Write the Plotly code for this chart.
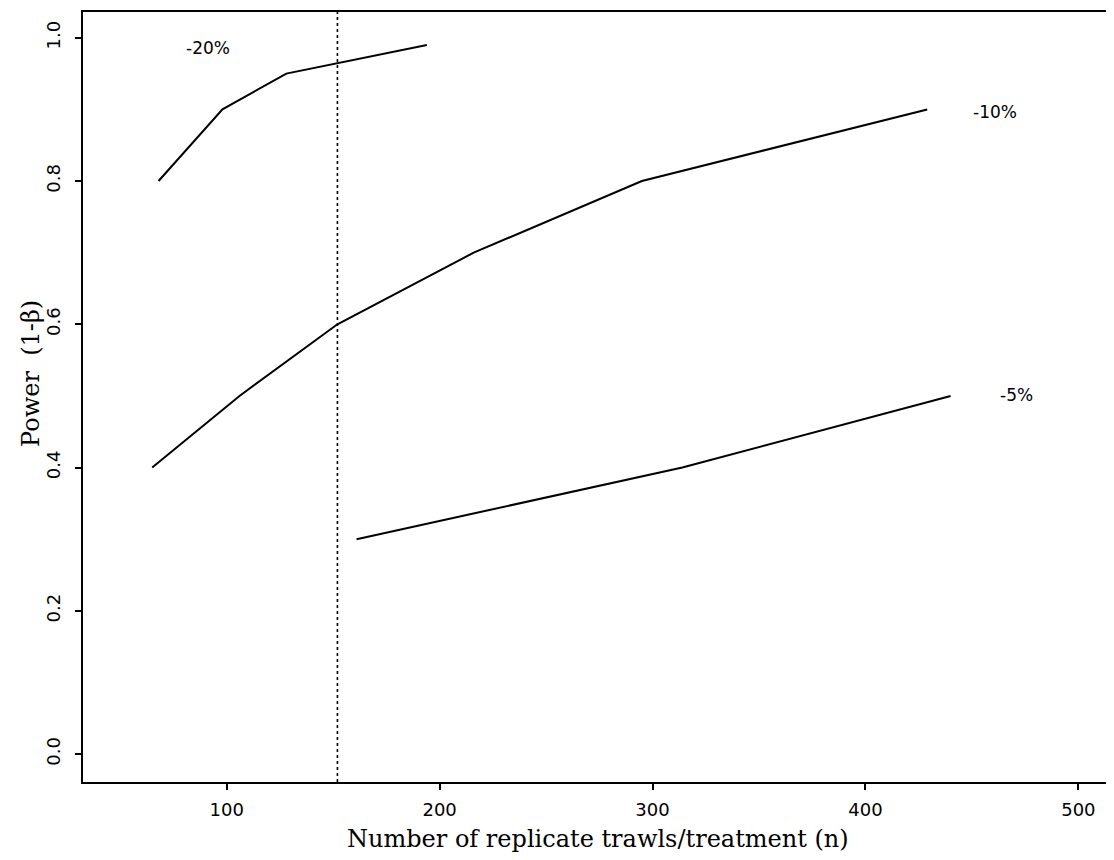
import plotly.graph_objects as go

# Data
n_20 = [68, 98, 128, 194]
p_20 = [0.80, 0.90, 0.95, 0.99]

n_10 = [65, 106, 152, 216, 295, 429]
p_10 = [0.40, 0.50, 0.60, 0.70, 0.80, 0.90]

n_5 = [161, 314, 440]
p_5 = [0.30, 0.40, 0.50]

reference_n = 152

series_labels = ["-20%", "-10%", "-5%"]
label_x = [91, 461, 471]
label_y = [0.986, 0.897, 0.501]

x_ticks = [100, 200, 300, 400, 500]
y_ticks = [0.0, 0.2, 0.4, 0.6, 0.8, 1.0]

fig = go.Figure()
line_style = dict(color="black", width=2)
for xs, ys in [(n_20, p_20), (n_10, p_10), (n_5, p_5)]:
    fig.add_trace(go.Scatter(x=xs, y=ys, mode="lines", line=line_style,
                             showlegend=False, hoverinfo="skip"))

fig.add_shape(type="line", xref="x", yref="paper", x0=reference_n, x1=reference_n,
              y0=0, y1=1, line=dict(color="black", width=1.6, dash="dot"))

for t, lx, ly in zip(series_labels, label_x, label_y):
    fig.add_annotation(x=lx, y=ly, text=t, showarrow=False,
                       font=dict(family="DejaVu Sans", size=17, color="black"))

# axis titles placed as annotations
fig.add_annotation(xref="paper", yref="paper", x=0, y=0.53, xshift=-52,
                   xanchor="center", yanchor="middle",
                   text="Power  (1-β)", textangle=-90, showarrow=False,
                   font=dict(family="DejaVu Serif", size=24, color="black"))
fig.add_annotation(xref="paper", yref="paper", x=0.5, y=0, yshift=-57,
                   xanchor="center", yanchor="middle",
                   text="Number of replicate trawls/treatment (n)", showarrow=False,
                   font=dict(family="DejaVu Serif", size=24, color="black"))

fig.update_layout(
    width=1106, height=844,
    margin=dict(l=75, r=0, t=4, b=70),
    paper_bgcolor="white", plot_bgcolor="white",
    font=dict(family="DejaVu Sans", color="black"),
)
fig.update_xaxes(
    range=[32.5, 515.8], tickvals=x_ticks, ticktext=[str(v) for v in x_ticks],
    ticks="outside", ticklen=6, tickwidth=1.5, tickcolor="black", ticklabelstandoff=4,
    showgrid=False, zeroline=False, showline=True, linecolor="black", linewidth=2,
    mirror=True, tickfont=dict(family="DejaVu Sans", size=18, color="black"),
)
fig.update_yaxes(
    range=[-0.039, 1.036], tickvals=y_ticks, ticktext=[f"{v:.1f}" for v in y_ticks],
    tickangle=-90,
    ticks="outside", ticklen=6, tickwidth=1.5, tickcolor="black", ticklabelstandoff=8,
    showgrid=False, zeroline=False, showline=True, linecolor="black", linewidth=2,
    mirror=True, tickfont=dict(family="DejaVu Sans", size=18, color="black"),
)

fig.write_html("out.html")
